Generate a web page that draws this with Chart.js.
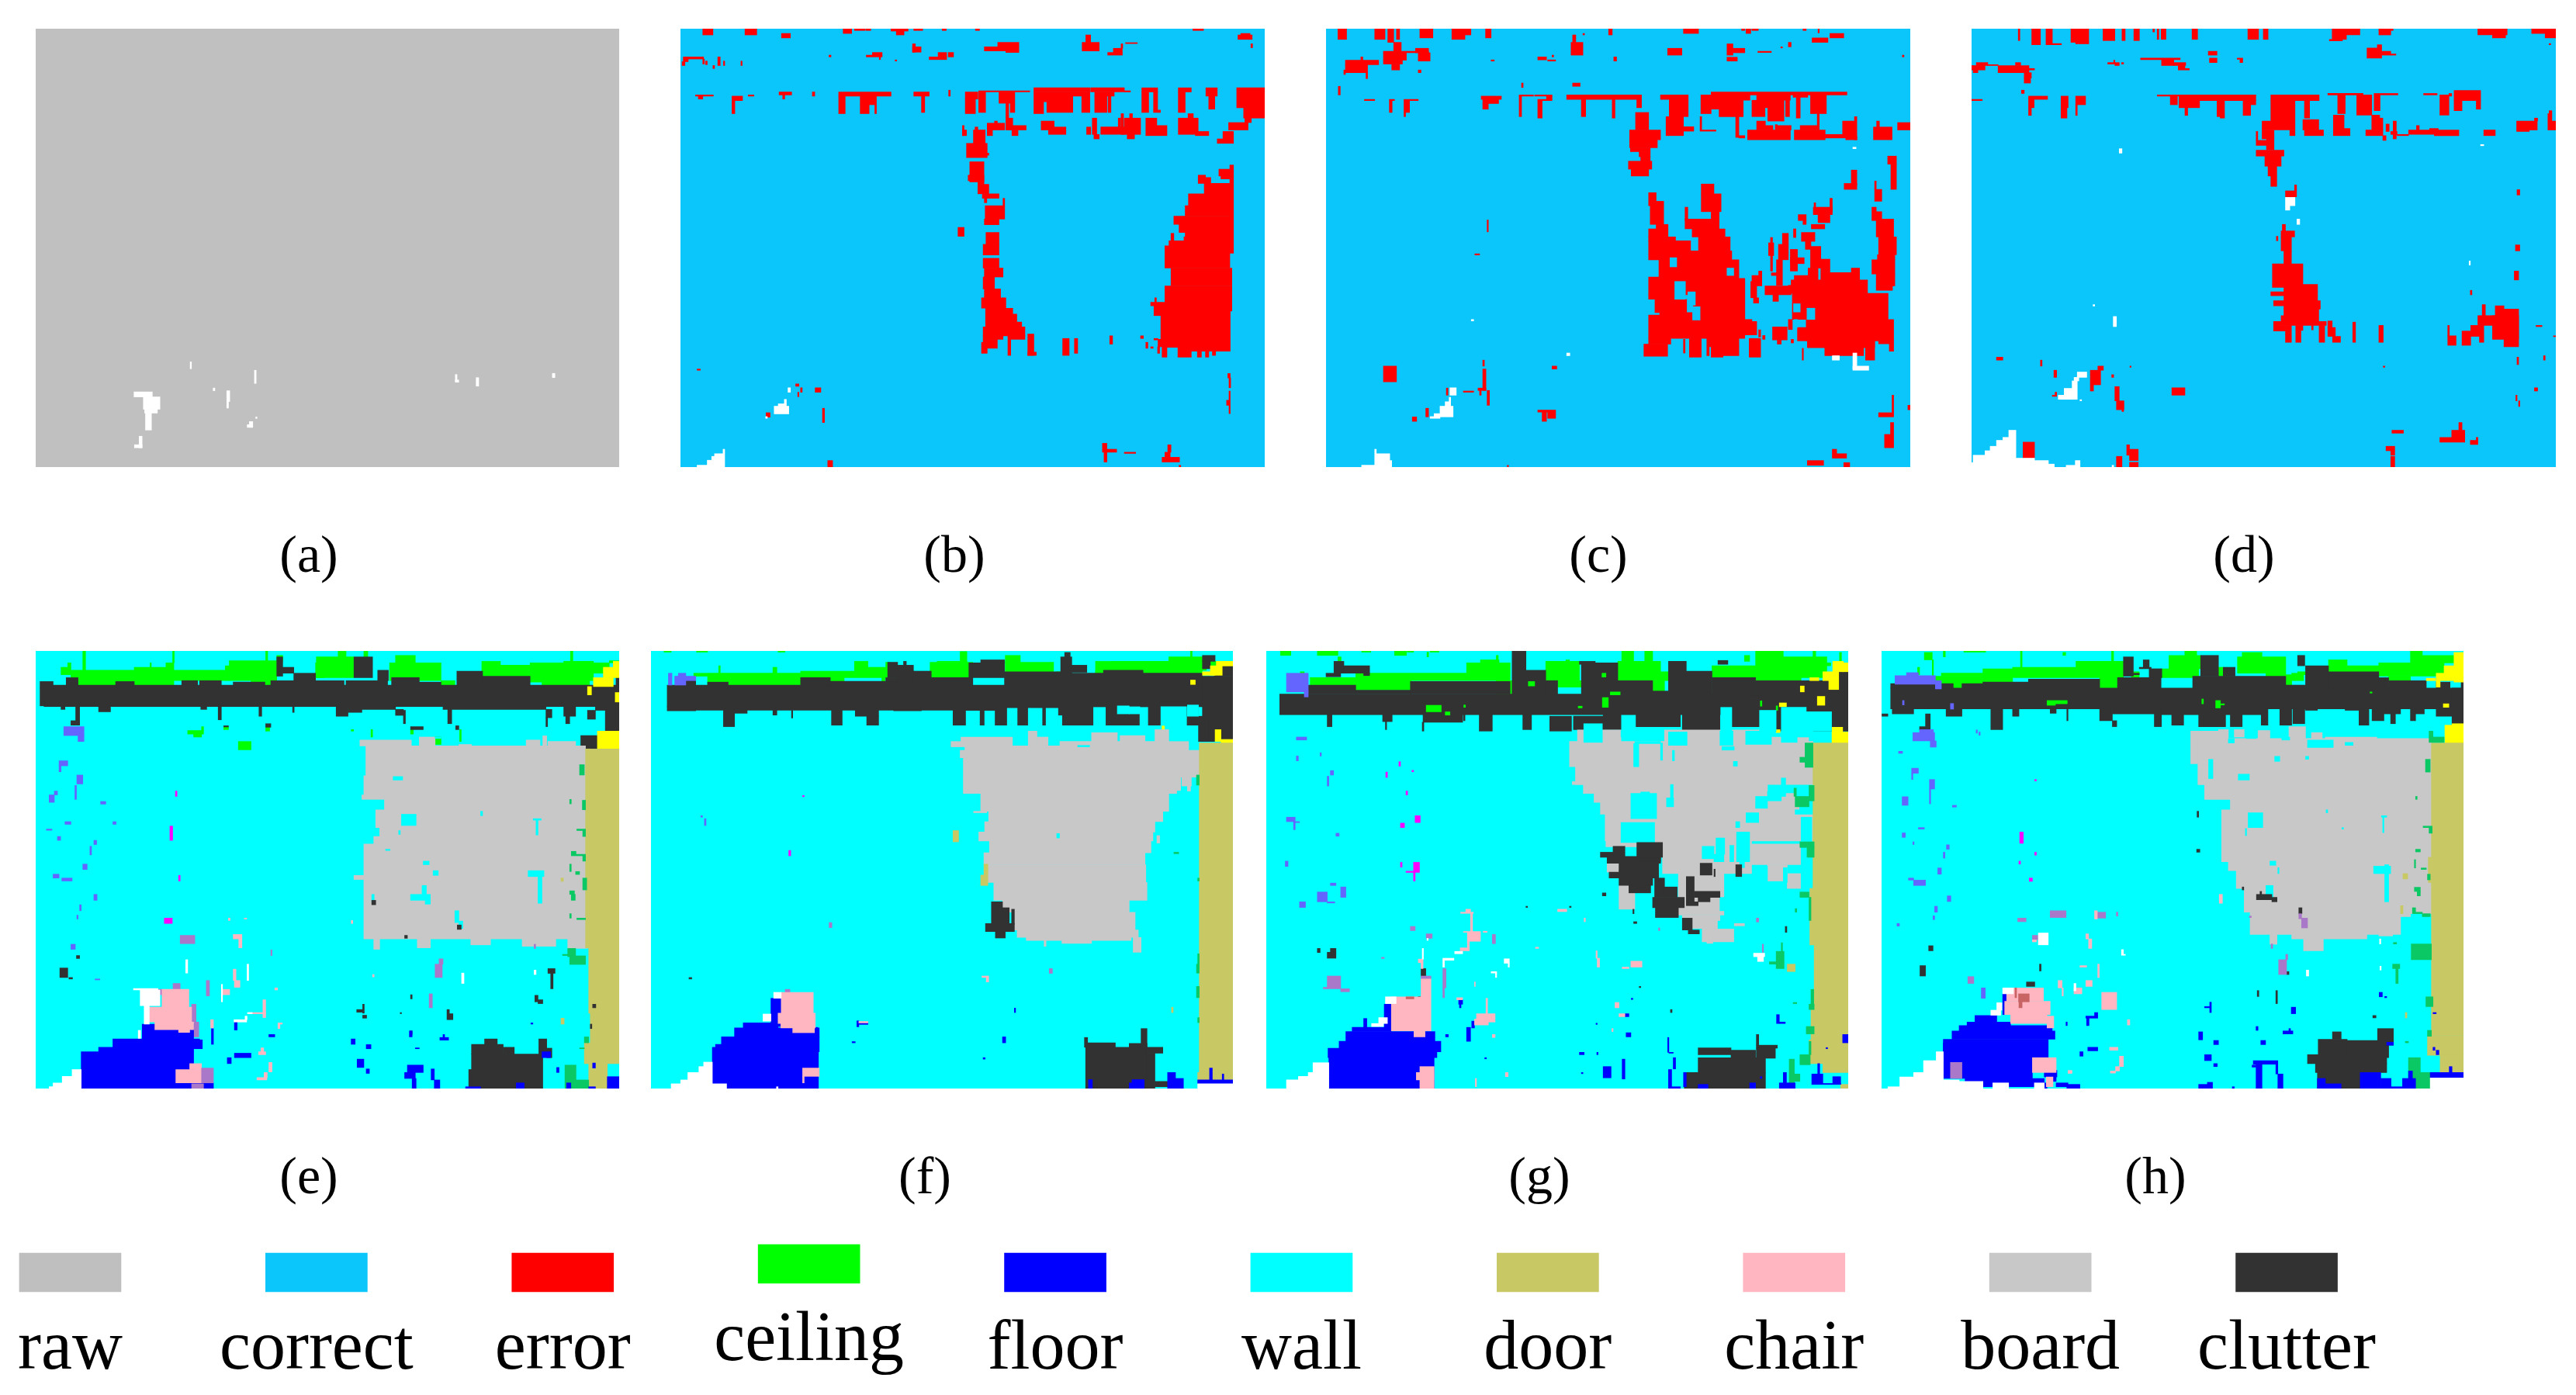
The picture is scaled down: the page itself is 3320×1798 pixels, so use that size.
<!DOCTYPE html>
<html>
<head>
<meta charset="utf-8">
<title>Segmentation results</title>
<script src="https://cdn.jsdelivr.net/npm/chart.js@4"></script>
<style>
  html, body { margin: 0; background: #fff; width: 3320px; height: 1798px; overflow: hidden; }
  canvas { position: absolute; }
  .caption { position: absolute; font-family: "Liberation Serif", serif; font-size: 68px; line-height: 80px; width: 200px; text-align: center; color: #000; }
</style>
</head>
<body>
<script>
// legend
const legendNames = ['raw', 'correct', 'error', 'ceiling', 'floor', 'wall', 'door', 'chair', 'board', 'clutter'];
const legendTops = [25, 25, 25, 14, 25, 25, 25, 25, 25, 25];
const legendColors = ['#c0bfbf', '#0bc6fa', '#ff0000', '#00ff00', '#0000ff', '#00ffff', '#c8c864', '#ffb6c1', '#c8c8c8', '#323232'];

const captions = ['(a)', '(b)', '(c)', '(d)', '(e)', '(f)', '(g)', '(h)'];

// class colours of the regions
const colors = {
  raw: '#c0c0c0', correct: '#0bc6fa', error: '#ff0000', clear: '#ffffff',
  ceiling: '#00ff00', floor: '#0000ff', wall: '#00ffff', door: '#c8c864', chair: '#ffb6c1', board: '#c8c8c8', clutter: '#323232',
  beam: '#ffff00', column: '#ff00ff', window: '#6464ff', table: '#aa78c8', sofa: '#c86464', bookcase: '#0ac864'
};

// regions, each [x0, y0, x1, y1] in image coordinates
const aClear = [[315,1015,358,1028],[337,1028,376,1060],[340,1060,370,1070],[342,1070,356,1114],[316,1152,334,1160],[327,1130,334,1160],[447,937,450,955],[598,959,602,993],[501,1005,505,1012],[533,1012,540,1040],[533,1040,537,1057],[586,1092,594,1107],[581,1100,594,1107],[601,1080,604,1084],[1070,970,1074,988],[1070,984,1078,990],[1119,978,1125,1000],[1298,967,1304,978]];

const bError = [[126,44,151,65],[230,44,259,65],[320,60,342,75],[472,44,493,60],[500,44,526,50],[528,44,540,50],[590,44,632,52],[603,52,622,65],[646,44,668,50],[716,44,726,50],[798,44,808,50],[1334,44,1360,50],[1445,65,1480,80],[1452,60,1475,65],[1477,95,1481,108],
[643,95,650,123],[643,105,664,123],[820,105,905,119],[853,90,905,105],[873,119,905,124],[1061,90,1103,119],[1070,65,1082,90],[1124,124,1160,133],[1138,110,1160,124],[1157,95,1161,110],[1168,91,1197,94],[529,133,568,139],[544,124,568,133],[561,139,564,148],[684,139,727,148],[706,124,727,139],[731,124,744,139],[437,133,442,139],[600,149,604,153],
[78,139,128,146],[78,146,90,155],[75,155,82,168],[126,146,130,163],[133,153,137,165],[151,168,155,178],[163,139,169,168],[177,153,180,168],[220,153,223,168],
[108,267,152,271],[115,271,126,281],[198,271,224,286],[198,286,205,330],[238,267,252,271],[314,257,345,267],[323,267,328,281],[396,257,402,271],[461,257,590,271],[461,271,477,330],[514,271,554,300],[514,300,536,330],[550,300,554,330],[646,257,684,271],[665,271,673,326],[732,251,736,271],
[773,257,804,281],[773,281,798,330],[806,253,932,257],[806,257,823,326],[856,257,895,295],[884,295,895,326],[942,243,1080,257],[942,257,966,330],[966,257,973,290],[974,257,1038,326],[1038,257,1080,271],[1060,271,1080,326],[1082,243,1165,257],[1092,257,1140,271],[1092,271,1122,326],[1125,271,1132,326],[1165,253,1180,257],[1208,243,1247,257],[1208,257,1225,326],[1237,257,1247,318],[1237,318,1254,326],[1298,243,1330,257],[1298,257,1315,326],[1366,243,1394,271],[1373,271,1388,315],[1442,243,1511,310],[1459,310,1511,345],
[873,295,880,385],[880,345,890,385],[880,370,923,385],[888,385,903,404],[827,362,870,385],[845,355,852,362],[827,385,840,404],[766,370,770,404],[766,385,776,404],[797,375,804,385],[793,385,822,430],[776,430,827,478],[827,463,831,470],[784,492,819,560],[780,537,819,556],[804,560,819,568],[804,568,831,600],[815,600,856,615],[820,615,826,630],[960,355,992,385],[978,375,1021,400],[1086,345,1097,400],[1072,375,1082,400],[1090,400,1103,415],[1107,375,1168,400],[1150,345,1156,375],[1157,330,1163,400],[1165,345,1205,400],[1172,400,1190,415],[1178,330,1185,360],[1218,345,1245,404],[1245,370,1270,404],[1298,345,1347,400],[1322,330,1335,345],[1340,390,1373,404],[1394,415,1434,430],[1408,390,1434,415],[1422,360,1470,385],[1462,345,1478,360],
[822,640,870,685],[866,615,870,640],[820,685,856,704],[755,713,770,743],[824,730,856,770],[817,770,856,806],[817,817,856,850],[820,850,866,880],[817,880,845,920],[820,920,860,950],[813,950,873,985],[823,985,890,1005],[823,1005,900,1032],[823,1032,912,1050],[817,1048,920,1078],[817,1078,866,1090],[817,1090,852,1120],[813,1100,827,1137],[878,1078,885,1144],[885,1078,920,1090],[927,1072,942,1144],[927,1133,948,1144],[1013,1087,1029,1144],[1042,1087,1050,1137],[1129,1078,1136,1106],[1205,1078,1212,1087],[1218,1100,1223,1120],[1230,1115,1236,1120],[1247,1115,1252,1137],
[1425,503,1434,800],[1398,517,1425,540],[1403,540,1425,550],[1347,537,1365,565],[1365,545,1378,567],[1362,565,1425,600],[1323,600,1425,640],[1315,640,1425,675],[1287,675,1425,703],[1300,703,1425,730],[1315,730,1425,745],[1280,733,1287,760],[1312,745,1425,760],[1275,758,1425,775],[1265,775,1425,850],[1280,850,1430,910],[1265,910,1430,965],[1230,965,1430,977],[1238,977,1430,995],[1238,995,1255,1010],[1255,995,1426,1090],[1248,1090,1426,1115],[1238,1087,1248,1092],[1240,950,1244,965],[1297,1115,1330,1150],[1258,1115,1270,1150],[1270,1115,1297,1117],[1330,1115,1426,1130],[1345,1130,1355,1150],[1365,1130,1373,1150],[1382,1130,1390,1144],
[112,1190,120,1194],[355,1240,363,1248],[403,1253,417,1268],[360,1268,363,1283],[367,1253,371,1268],[282,1337,292,1352],[421,1322,426,1370],[1420,1205,1426,1220],[1423,1220,1427,1253],[1423,1264,1426,1340],[1417,1295,1423,1312],[1111,1440,1122,1470],[1122,1460,1146,1470],[1115,1470,1122,1503],[1165,1470,1193,1474],[1258,1487,1301,1503],[1265,1470,1278,1487],[1272,1445,1280,1470],[1300,1514,1304,1520],[434,1498,446,1520]];
const bClear = [[336,1253,342,1268],[302,1315,338,1341],[312,1307,332,1315],[327,1292,332,1307],[281,1350,285,1356],[112,1514,176,1520],[137,1497,176,1514],[148,1484,176,1497],[155,1475,176,1484],[176,1460,180,1520]];

const cError = [[87,44,109,80],[180,44,206,80],[213,44,228,90],[235,44,243,80],[294,44,327,75],[375,44,423,65],[375,65,408,80],[460,44,474,75],[771,44,780,65],[960,44,998,60],[1107,44,1115,50],[1118,44,1130,60],[1133,44,1149,50],[1262,44,1270,50],[1300,44,1303,58],[680,65,688,90],[706,60,710,65],[676,90,706,133],[1285,75,1325,90],[1330,60,1365,75],[920,110,956,133],[1070,95,1085,133],[1085,110,1115,125],[1070,140,1096,153],[1148,120,1182,124],[1225,90,1232,105],[1206,105,1210,109],[1513,133,1517,139],
[228,90,247,120],[202,120,316,125],[202,125,260,150],[283,110,316,125],[290,125,320,153],[202,150,250,163],[223,163,243,183],[106,150,190,165],[145,139,150,150],[106,165,162,192],[102,183,106,198],[158,192,162,212],[290,183,297,192],[474,149,482,153],[592,139,614,149],[617,149,637,153],[628,133,632,139],[784,139,791,153],
[680,227,699,238],[551,227,555,242],[88,238,93,267],[154,282,180,286],[217,282,230,286],[217,286,224,326],[254,282,290,286],[254,286,268,326],[254,326,258,340],[449,271,500,282],[453,282,493,296],[453,296,467,315],[545,267,581,271],[545,271,551,340],[584,267,628,271],[614,271,628,286],[592,282,614,286],[592,286,603,345],[665,267,854,282],[702,282,713,340],[780,282,787,345],[842,282,854,310],
[902,267,972,282],[924,282,972,340],[916,340,960,404],[960,374,986,389],[1004,267,1030,330],[1030,257,1373,267],[1030,267,1128,285],[1030,285,1111,315],[1050,315,1111,340],[1092,340,1100,410],[1100,404,1115,412],[1145,267,1230,285],[1133,285,1166,340],[1173,285,1214,355],[1166,285,1173,310],[1218,285,1228,340],[1237,267,1274,275],[1245,275,1255,345],[1281,267,1321,330],[1298,330,1303,380],[1002,340,1006,385],[1002,385,1042,389],
[1122,385,1230,418],[1145,355,1167,385],[1167,370,1186,385],[1197,370,1232,385],[1192,367,1197,385],[1255,370,1303,385],[1240,385,1318,418],[1317,400,1370,412],[1362,355,1392,408],[1392,340,1398,418],[1370,405,1398,418],[1448,355,1455,375],[1440,375,1487,418],[1501,360,1533,385],
[839,326,872,385],[824,385,902,418],[824,418,894,445],[826,445,876,458],[848,458,876,475],[852,475,876,490],[821,490,880,517],[828,517,872,540],
[1476,473,1498,500],[1484,500,1498,585],[1384,520,1398,570],[1366,565,1398,585],[1443,557,1447,585],[1443,585,1461,625],[1436,645,1447,690],[1447,660,1461,690],[1447,685,1491,745],[1453,745,1498,805],[1436,822,1494,870],[1447,870,1494,910],[1447,910,1488,925],[1450,805,1494,822],
[872,596,891,640],[876,625,910,703],[891,703,921,718],[872,718,921,745],[872,745,940,758],[872,758,978,822],[898,822,1090,880],[872,880,1090,940],[872,940,938,955],[888,955,968,1000],[900,1000,1005,1008],[872,1008,1005,1087],[972,792,1082,822],[1005,567,1037,600],[1005,600,1055,660],[1030,655,1050,700],[964,645,971,690],[964,685,1050,718],[982,718,1065,745],[998,745,1078,792],[1090,822,1100,890],[985,885,1115,1030],[1000,895,1115,1087],[1005,1030,1145,1075],[1115,1023,1133,1050],[1020,1075,1100,1115],[1030,1115,1060,1150],[1060,1115,1100,1145],[975,1087,1005,1150],[1019,1087,1025,1145],[1126,1087,1155,1150],[872,1087,928,1106],[860,1106,920,1147],[960,1090,964,1136],
[1133,875,1158,910],[1130,895,1145,950],[1137,950,1150,968],[1166,910,1232,940],[1186,940,1200,962],[1150,860,1158,875],[1175,765,1188,808],[1180,747,1185,860],[1210,733,1225,770],[1200,770,1225,822],[1195,822,1210,908],[1182,866,1196,875],[1230,787,1248,860],[1230,815,1265,835],[1225,908,1260,932],[1240,875,1300,908],[1275,850,1300,875],[1258,730,1292,760],[1283,703,1317,718],[1268,760,1282,787],[1281,777,1307,850],[1307,820,1330,890],[1238,718,1244,747],[1250,670,1270,690],[1262,690,1270,703],[1288,645,1336,670],[1300,670,1330,697],[1330,615,1336,660],[1290,630,1294,645],[1315,865,1405,890],[1384,850,1405,865],[1232,890,1425,935],
[1235,935,1477,1023],[1270,1023,1491,1095],[1248,1050,1270,1095],[1225,1023,1235,1057],[1273,1095,1443,1118],[1317,1118,1415,1145],[1420,1095,1443,1160],[1453,1095,1491,1105],[1480,1105,1491,1130],[1260,1120,1263,1160],[1185,1048,1222,1092],[1197,1092,1207,1106],[1150,1058,1155,1082],[1160,1077,1166,1090],[1232,1090,1238,1102],
[464,688,467,728],[433,802,445,806],[202,1180,235,1233],[628,1180,640,1190],[453,1160,457,1180],[453,1190,461,1262],[441,1254,461,1262],[445,1262,449,1278],[464,1262,470,1312],[404,1264,430,1268],[361,1254,365,1278],[309,1322,316,1351],[275,1351,286,1366],[592,1328,637,1335],[617,1335,637,1356],[603,1335,614,1366],[1453,1337,1491,1351],[1487,1278,1491,1337],[1483,1370,1491,1455],[1468,1410,1483,1455],[1527,1312,1533,1327],[1336,1460,1347,1490],[1347,1475,1372,1490],[1273,1498,1314,1514],[1365,1505,1380,1520],[515,1514,518,1520]];
const cHoles = [[926,815,943,846],[1070,850,1087,875],[938,895,965,955],[971,930,990,975],[983,980,1002,1025],[1238,970,1255,998],[1272,985,1292,1023],[1240,1023,1248,1050]];
const cClear = [[370,1253,386,1278],[345,1315,378,1351],[368,1285,372,1320],[358,1300,368,1320],[320,1350,345,1356],[330,1340,345,1350],[424,1023,430,1028],[665,1136,673,1145],[1336,1145,1354,1160],[1388,1136,1398,1190],[1388,1180,1428,1194],[1388,443,1396,448],[147,1514,223,1520],[180,1460,184,1514],[184,1475,218,1514],[218,1498,223,1514]];

const dError = [[159,44,163,84],[193,44,215,98],[229,44,245,98],[245,94,268,98],[292,44,337,90],[304,90,337,95],[373,44,403,84],[421,44,429,84],[451,44,465,84],[499,44,503,55],[510,44,514,80],[520,44,532,80],[598,44,612,80],[739,44,766,80],[778,44,790,80],[952,44,1022,65],[952,65,988,80],[945,80,978,85],[1070,44,1106,50],[1070,50,1100,65],[1320,44,1394,65],[1357,65,1390,75],[1456,44,1517,60],[1490,60,1517,75],[1500,94,1504,98],
[1040,109,1077,143],[1066,98,1077,109],[1077,120,1100,133],[1100,129,1113,133],[639,120,661,133],[642,143,661,158],[712,143,726,147],[719,147,726,158],[468,143,568,148],[521,148,552,168],[552,158,582,168],[563,168,580,180],[563,178,591,183],[385,158,414,163],[400,150,403,158],[403,163,414,168],[420,158,425,163],
[41,168,75,183],[53,158,82,168],[45,183,57,192],[82,165,108,168],[108,168,186,192],[152,158,165,168],[174,192,192,210],[174,210,190,227],[186,178,200,183],[167,251,174,262],[41,282,68,286],
[185,271,233,282],[185,282,199,310],[185,310,192,336],[267,271,285,310],[267,310,282,345],[304,271,329,300],[304,300,308,336],
[510,267,759,271],[543,271,561,300],[565,271,759,286],[565,286,617,310],[580,310,587,336],[661,286,680,340],[669,340,680,345],[727,286,759,300],[727,300,746,336],
[797,267,919,286],[797,286,858,355],[775,355,858,385],[775,385,805,415],[845,385,858,404],[882,286,895,345],[878,350,918,385],[882,385,930,404],[955,335,982,404],[982,380,997,404],[941,262,1030,267],[966,267,985,330],[1014,267,1052,335],[1058,262,1118,267],[1058,267,1073,320],[1052,335,1072,385],[1037,385,1080,404],[1072,345,1080,385],[1080,404,1088,420],[1183,262,1217,267],[1224,267,1247,335],[1247,262,1254,271],[1260,252,1327,286],[1260,286,1280,320],[1316,286,1327,315],
[1088,365,1096,390],[1100,390,1116,400],[1106,355,1114,415],[1116,400,1145,404],[1145,385,1210,400],[1165,370,1172,385],[1198,380,1220,385],[1210,385,1272,404],[1335,385,1364,404],[1418,355,1470,385],[1463,345,1471,355],[1418,385,1450,390],[1497,330,1507,385],[1507,355,1517,385],[1500,320,1507,330],
[760,390,764,420],[760,420,790,437],[786,404,805,452],[760,453,830,473],[782,473,823,507],[790,507,812,540],[797,540,812,575],[834,590,862,610],[857,570,862,590],
[826,703,834,725],[823,725,857,745],[811,743,815,758],[823,745,849,792],[830,792,849,836],[801,836,878,905],[801,905,915,915],[830,915,915,930],[797,930,915,943],[830,943,915,960],[804,960,922,977],[830,977,922,988],[830,988,918,1010],[823,1010,918,1030],[804,1030,937,1043],[804,1043,834,1062],[834,1043,849,1100],[860,1043,878,1060],[860,1060,873,1100],[900,1043,904,1058],[919,1043,933,1100],[941,1028,952,1050],[941,1050,960,1080],[953,1080,973,1100],[1004,1032,1011,1100],[1070,1043,1081,1100],
[1244,1043,1248,1078],[1244,1078,1265,1110],[1280,1062,1302,1110],[1302,1043,1335,1080],[1320,1010,1365,1043],[1331,973,1339,1010],[1364,977,1386,1010],[1386,988,1423,1115],[1357,1010,1423,1090],[1324,1080,1335,1100],
[1419,586,1426,604],[1415,772,1426,792],[1412,860,1423,890],[1301,925,1305,940],[1467,1043,1482,1047],[1511,1078,1517,1081],[1419,1150,1423,1175],[1486,1145,1490,1160],[1463,1253,1471,1264],[1416,1278,1419,1297],[1423,1297,1426,1316],
[104,1150,120,1160],[215,1160,219,1180],[249,1194,256,1218],[360,1180,374,1194],[341,1194,367,1243],[341,1243,349,1264],[395,1209,400,1218],[441,1180,444,1184],[403,1249,414,1297],[407,1297,426,1327],[421,1327,425,1333],[547,1253,580,1278],[245,1278,256,1282],[252,1268,256,1278],[1081,1180,1085,1184],[1103,1396,1132,1406],[1272,1370,1280,1396],[1224,1420,1287,1436],[1254,1396,1287,1420],[1301,1430,1320,1444],[1316,1420,1320,1430],[171,1436,200,1490],[433,1445,440,1480],[440,1460,462,1498],[407,1484,421,1520],[440,1504,462,1520],[1088,1450,1110,1465],[1100,1465,1110,1480],[1100,1484,1110,1520]];
const dClear = [[414,448,421,463],[1327,434,1335,438],[834,612,858,640],[834,640,845,655],[863,685,870,703],[1298,826,1301,840],[348,973,352,978],[399,1013,407,1047],[308,1200,332,1218],[300,1218,312,1230],[295,1230,308,1292],[275,1255,295,1292],[260,1278,275,1292],[315,1293,319,1297],
[45,1480,75,1520],[75,1465,88,1520],[88,1450,104,1520],[104,1430,120,1520],[120,1420,135,1520],[135,1396,153,1520],[153,1490,200,1520],[200,1498,235,1520],[235,1510,250,1520],[280,1514,308,1520],[303,1498,315,1520],[396,1514,400,1520],[41,1505,45,1520]];

const eCeiling = [[95,105,120,130],[112,90,120,105],[120,115,300,165],[150,50,157,115],[280,105,360,165],[320,90,323,105],[360,90,380,165],[377,50,381,90],[380,115,510,150],[510,100,520,150],[520,83,640,150],[612,50,617,83],[575,150,640,170],[610,170,625,188],[640,65,655,85],[205,165,225,225],[197,225,208,238],[738,90,760,140],[740,70,835,140],[795,50,815,70],[860,50,870,70],[925,90,1055,150],[940,65,990,90],[1055,150,1090,165],[1063,165,1080,188],[1158,85,1205,140],[1205,98,1280,140],[1280,90,1430,155],[1310,105,1430,170],[1365,85,1440,150],[1382,50,1388,85],[1440,90,1480,125],[1480,83,1505,90],[415,318,455,330],[430,330,450,340],[450,305,455,318],[543,355,575,383],[1038,340,1055,365],[878,315,882,340],[1102,315,1106,355],[828,315,834,320],[506,306,518,315],[612,307,622,320],[978,315,985,330]];
const eBand = [[52,165,1500,237],[42,153,75,175],[42,175,52,235],[108,140,138,168],[233,153,280,170],[400,150,440,165],[445,150,500,165],[530,155,610,170],[625,150,690,165],[690,130,738,165],[738,150,810,165],[815,150,920,165],[895,115,922,150],[835,70,882,140],[640,70,655,135],[655,105,683,125],[683,125,738,150],[930,140,1000,165],[1000,155,1055,165],[1095,118,1160,165],[1160,135,1280,165],[1497,133,1505,340],[1470,170,1505,335],
[132,237,142,300],[120,285,142,300],[95,237,105,247],[190,237,220,255],[448,237,463,247],[492,237,500,282],[595,237,602,270],[680,237,684,257],[790,237,820,270],[820,237,855,257],[855,237,940,247],[940,247,960,267],[960,250,965,295],[1072,247,1082,295],[1060,237,1320,247],[1320,247,1335,275],[1320,275,1324,305],[1365,237,1395,270],[1370,270,1380,295],[1425,250,1445,280],[1445,237,1470,250],[978,305,1010,315],[1092,302,1100,315],[612,295,625,307],[506,302,518,306],[1408,335,1450,380]];
const eBeam = [[1440,140,1490,170],[1465,105,1505,140],[1490,85,1505,135],[1495,190,1505,222],[1425,170,1435,198],[1450,320,1505,380],[1487,380,1493,400],[1468,405,1500,418],[1448,483,1463,498],[1425,380,1432,388],[1298,423,1302,468],[1325,415,1342,433]];
const eBoard = [[865,370,1420,470],[850,350,980,370],[1000,340,1040,370],[1100,365,1132,375],[1270,350,1305,370],[1312,336,1322,370],[1325,355,1395,370],[860,470,1420,535],[855,535,912,550],[912,535,1420,585],[890,585,1420,645],[900,645,1420,675],[885,675,1420,700],[860,700,1420,1020],[885,1020,900,1055],[995,1020,1028,1050],[1130,1020,1180,1040],[1260,1020,1345,1045],[1375,1020,1425,1052],[835,806,862,820]];
const eHoles = [[955,600,992,638],[978,870,1028,890],[1007,840,1018,885],[1015,885,1028,903],[934,473,958,485],[880,870,886,895],[1275,790,1315,810],[1300,805,1310,900],[1090,925,1100,965],[1100,960,1110,985],[1288,615,1308,620],[1295,620,1300,670],[1155,590,1160,605],[1010,758,1025,770],[1035,790,1048,806],[948,655,952,668],[915,718,926,722],[1040,340,1055,345]];
const eDoor = [[1420,380,1505,1050],[1428,1050,1505,1270],[1432,1270,1505,1370],[1417,1370,1505,1440],[1428,1440,1475,1524],[1358,815,1364,826],[1358,1287,1366,1307]];
const eBookcase = [[1405,433,1417,468],[1412,553,1420,585],[1380,550,1384,565],[1398,650,1420,655],[1413,655,1420,675],[1384,725,1396,735],[1384,735,1420,740],[1413,740,1420,758],[1380,768,1384,793],[1395,793,1405,803],[1413,815,1423,855],[1380,858,1392,870],[1384,870,1394,890],[1380,935,1384,950],[1398,950,1420,955],[1375,1052,1395,1080],[1380,1077,1420,1106],[1362,1072,1375,1076],[1368,1445,1396,1524],[1396,1495,1428,1524],[1417,1350,1428,1370],[1405,1387,1417,1390]];
const eWindow = [[102,305,153,335],[138,335,153,355],[90,420,112,437],[90,437,95,457],[135,468,150,498],[130,503,134,550],[65,535,78,560],[78,522,86,535],[195,557,208,566],[105,625,120,634],[226,625,234,634],[58,650,72,654],[86,675,94,688],[178,688,185,702],[168,708,172,737],[150,768,161,786],[75,802,90,815],[97,815,123,825],[178,870,186,890],[142,905,146,925],[135,940,138,953],[120,1038,131,1055],[181,1155,193,1158]];
const eColumn = [[370,640,377,688],[384,522,388,540],[392,806,396,825],[356,950,376,968]];
const eSpots = [[880,890,890,905],[963,1008,970,1018],[1096,973,1106,988],[1165,1357,1197,1375],[1132,1375,1212,1408],[1212,1385,1240,1408],[1132,1408,1312,1524],[1125,1460,1132,1518],[1302,1357,1322,1388],[1322,1388,1335,1420],[1302,1388,1322,1408],[92,1118,112,1150],[115,1150,124,1155],[134,1076,142,1086],[1325,1120,1343,1136],[1332,1136,1338,1188],[1292,1210,1300,1232],[1300,1225,1312,1238],[1070,1258,1076,1292],[1076,1272,1085,1292],[857,1240,861,1270],[842,1258,857,1267],[857,1277,867,1287],[978,1208,982,1222],[977,1330,982,1342],[952,1268,955,1272],[1438,1240,1446,1252],[1432,1307,1436,1322]];
const eTable = [[396,1008,433,1036],[1040,1105,1058,1150],[1050,1087,1060,1105],[625,1057,628,1076],[1025,1205,1033,1252],[322,1190,352,1208],[378,1170,396,1190],[425,1240,436,1300],[430,1300,443,1350],[462,1160,470,1212],[1290,1038,1294,1052]];
const eFloor = [[300,1307,430,1360],[226,1357,445,1385],[190,1385,430,1400],[146,1400,430,1524],[430,1360,452,1390],[407,1505,480,1524],[475,1322,480,1375],[533,1300,540,1327],[533,1405,575,1420],[515,1420,525,1440],[620,1342,635,1350],[828,1357,838,1375],[866,1376,878,1390],[843,1425,860,1453],[866,1458,874,1473],[975,1330,982,1350],[1052,1352,1074,1361],[1060,1342,1064,1352],[990,1387,1000,1390],[1282,1303,1287,1307],[1310,1400,1332,1420],[970,1445,1010,1470],[963,1470,990,1490],[982,1490,992,1524],[1030,1458,1038,1495],[1038,1495,1052,1524],[1117,1518,1155,1524],[1245,1505,1265,1524],[1347,1453,1353,1470],[1428,1518,1445,1524],[1438,1438,1445,1455],[1475,1484,1505,1524],[1372,1505,1383,1524]];
const eChair = [[350,1190,418,1250],[318,1250,425,1300],[332,1300,430,1326],[392,1326,420,1335],[385,1460,450,1505],[420,1440,450,1460],[530,1122,537,1160],[533,1160,547,1183],[503,1190,521,1208],[530,1005,552,1020],[544,1020,552,1050],[568,1268,612,1272],[605,1225,612,1285],[473,1292,480,1320],[643,1303,654,1307],[643,1307,648,1322],[594,1400,612,1410],[600,1387,607,1400],[620,1436,628,1468],[590,1487,615,1495],[608,1470,616,1487],[635,1185,642,1192],[518,950,522,958],[558,950,564,953],[828,958,832,968],[882,1140,886,1148]];
const eTable2 = [[450,1455,480,1505],[425,1508,455,1524]];
const eClear = [[278,1187,340,1192],[295,1192,345,1245],[305,1245,318,1307],[290,1328,296,1355],[410,1090,415,1135],[500,1173,503,1232],[565,1105,569,1160],[532,1292,564,1300],[560,1280,565,1292],[1107,1135,1113,1170],[1290,1125,1295,1140],[566,1268,578,1272],[65,1518,146,1524],[75,1505,146,1518],[98,1483,146,1505],[123,1460,146,1483]];

const fCeiling = [[145,125,180,135],[180,125,415,165],[208,100,212,125],[345,105,355,125],[415,118,630,140],[487,140,525,152],[551,85,585,118],[585,105,630,118],[630,88,640,140],[620,140,628,152],[742,88,850,138],[760,85,835,88],[818,52,835,88],[932,65,970,90],[932,88,1054,120],[1015,120,1035,132],[1060,120,1072,162],[1160,85,1200,125],[1200,85,1440,115],[1160,115,1430,125],[1280,115,1430,138],[1345,70,1430,115],[1400,50,1404,70],[1430,85,1476,100],[70,50,88,54],[152,50,180,54],[358,50,375,54],[232,165,236,198]];
const fBand = [[78,165,1430,238],[78,238,150,252],[150,238,1420,250],[108,140,150,165],[180,155,232,165],[415,140,490,165],[490,152,630,165],[630,140,660,165],[635,88,660,140],[660,98,700,118],[675,85,682,98],[700,118,745,140],[660,118,700,165],[700,140,850,165],[840,90,930,140],[870,80,930,90],[930,120,1072,165],[1072,70,1100,125],[1082,55,1096,70],[1100,98,1138,122],[1072,125,1430,165],[1180,115,1280,125],[1430,65,1462,85],[1430,85,1450,110],[1430,135,1507,355],[1480,100,1507,135],[1460,115,1480,140],
[220,245,248,305],[248,245,280,260],[345,245,355,266],[392,250,395,276],[493,245,520,300],[553,245,612,270],[582,270,612,300],[650,245,720,252],[800,243,1420,300],[1420,270,1445,355]];
const fBeam = [[1465,85,1507,100],[1450,100,1480,132],[1480,85,1507,100],[1430,120,1462,132],[1400,148,1412,163],[1328,302,1334,315],[1462,315,1477,355],[1477,348,1507,360]];
const fBoard = [[795,355,830,373],[820,340,950,370],[830,370,1395,385],[818,385,1422,410],[826,410,1422,475],[826,475,1365,530],[1365,475,1375,520],[1378,475,1402,505],[1392,505,1400,522],[870,530,1345,590],[852,590,885,595],[890,590,1330,625],[880,625,1310,660],[865,660,1305,690],[892,690,1300,730],[878,730,1285,770],[888,770,1287,830],[903,830,1290,890],[925,890,1245,930],[950,930,1260,990],[962,990,1268,1015],[985,1015,1250,1025],[1075,1025,1150,1035],[1255,1015,1275,1065],[1030,1015,1035,1045],[990,320,1012,370],[1012,340,1040,370],[1070,355,1150,370],[1150,325,1215,355],[1222,335,1285,355],[1150,355,1345,375],[1310,315,1345,355],[1345,355,1395,375],[1315,672,1322,697]];
const fHoles = [[833,252,867,301],[880,252,905,301],[937,243,962,301],[990,243,995,301],[995,243,1025,301],[1035,243,1065,301],[1065,268,1075,301],[1155,240,1185,301],[1215,235,1245,262],[1245,238,1272,262],[1272,240,1292,301],[1325,238,1390,301],[1392,232,1420,270],[1115,368,1145,373],[1062,665,1069,680]];
const fDoor = [[1422,360,1507,1495],[1418,1470,1507,1495],[800,655,814,693],[878,768,888,805],[870,805,888,840],[1352,1250,1356,1268]];
const fBookcase = [[1415,468,1422,502],[1418,1070,1422,1135],[1415,1105,1420,1135],[1415,1180,1422,1218],[1358,728,1370,733],[1418,815,1422,825],[1418,1285,1422,1302]];
const fWindow = [[81,125,90,165],[97,135,105,165],[106,125,125,165],[125,135,150,150],[172,615,176,638],[163,605,167,610]];
const fColumn = [[420,537,424,541],[385,722,390,740]];
const fSpots = [[897,895,925,970],[925,915,942,970],[882,968,955,995],[907,995,932,1017],[948,920,955,970],[1132,1352,1140,1385],[1140,1370,1210,1385],[1135,1385,1290,1524],[1245,1372,1290,1385],[1275,1322,1290,1385],[1290,1385,1330,1405],[1290,1405,1310,1524],[1310,1500,1345,1518],[133,1150,140,1155]];
const fTable = [[487,965,494,982],[1043,1120,1051,1136],[376,1190,388,1200]];
const fFloor = [[340,1220,366,1315],[270,1303,358,1340],[248,1320,462,1350],[215,1350,462,1375],[200,1375,462,1400],[192,1385,460,1524],[452,1318,458,1340],[557,1296,562,1316],[562,1303,585,1308],[545,1366,553,1370],[925,1350,933,1370],[955,1253,958,1268],[876,1420,881,1425],[1142,1494,1152,1524],[1245,1505,1252,1524],[1252,1494,1283,1524],[1342,1470,1362,1524],[1362,1490,1382,1524],[1418,1495,1507,1508],[1448,1455,1455,1495],[1480,1475,1484,1495]];
const fChair = [[366,1200,447,1270],[358,1270,452,1305],[365,1305,452,1320],[395,1320,450,1336],[420,1455,462,1483],[420,1483,424,1505],[873,1145,890,1150],[884,1150,890,1165],[562,1298,585,1303]];
const fClear = [[347,1200,366,1220],[320,1273,340,1297],[88,1508,112,1524],[112,1495,130,1524],[130,1470,158,1524],[158,1450,170,1524],[170,1435,192,1524],[192,1508,228,1524],[354,1518,358,1524],[1418,1508,1507,1524]];

const gCeiling = [[60,50,86,65],[153,50,205,65],[265,50,288,54],[348,50,378,65],[380,50,396,54],[438,50,460,54],[430,54,434,70],[205,70,213,85],[135,140,250,165],[250,125,390,182],[390,125,530,150],[530,90,640,150],[565,80,612,90],[605,65,610,80],[605,150,645,205],[632,205,664,235],[730,85,815,150],[760,150,845,172],[830,150,845,198],[781,80,790,85],[922,50,952,130],[912,85,1020,150],[980,50,1000,85],[1000,120,1040,150],[1000,150,1030,185],[1232,65,1245,85],[1150,100,1260,140],[1260,50,1330,140],[1260,140,1375,150],[1330,70,1440,140],[1405,50,1412,70],[1472,55,1477,85],[1440,90,1450,100],[110,120,120,135]];
const gBand = [[58,195,1494,265],[130,165,250,195],[250,182,390,195],[388,153,640,195],[645,50,680,200],[680,115,730,200],[730,150,760,200],[820,90,912,200],[815,85,855,95],[912,150,1000,200],[1000,185,1040,200],[1040,85,1085,200],[1085,118,1150,200],[1150,140,1260,200],[1260,150,1390,200],[1390,150,1445,200],[1445,180,1470,200],[1470,120,1494,320],[195,85,220,125],[220,100,285,125],[175,125,212,137],[270,125,285,133],[1165,82,1190,95],
[178,265,190,305],[318,265,342,288],[325,288,328,315],[418,290,422,320],[420,265,520,290],[522,265,526,285],[562,265,595,320],[672,265,694,315],[740,270,795,320],[800,270,875,315],[875,265,920,315],[958,265,1070,305],[1075,265,1170,320],[1190,265,1270,305],[1310,265,1325,320],[1390,265,1470,320]];
const gCeilingOver = [[686,153,702,168],[872,125,882,138],[893,188,918,198],[873,207,888,240],[812,236,822,242],[428,233,466,255],[476,255,488,266],[523,232,527,240],[1272,218,1276,236],[1312,235,1316,250]];
const gBeam = [[1430,120,1470,150],[1445,150,1470,180],[1455,85,1482,120],[1480,90,1494,120],[1373,168,1383,188],[1397,140,1420,150],[1416,203,1435,233],[1320,225,1338,238],[1312,315,1322,325],[1453,307,1480,360],[1480,323,1494,360],[1306,403,1322,440],[1318,440,1338,478]];
const gBoard = [[810,316,920,360],[790,355,1405,440],[805,440,1405,500],[797,490,825,500],[825,500,1290,530],[852,530,1360,560],[868,560,1370,600],[880,600,1405,690],[882,690,1125,710],[1025,690,1250,800],[1250,700,1375,770],[1290,770,1340,825],[1340,800,1375,850],[885,760,915,795],[915,840,955,920],[1065,800,1180,940],[1075,940,1170,985],[1125,985,1205,1030],[1137,1018,1152,1035],[1205,968,1232,976],[1030,316,1290,355],[1290,340,1394,355]];
const gHoles = [[1172,240,1200,340],[1270,250,1312,320],[1325,240,1388,320],[1388,255,1452,320],[826,295,873,358],[920,318,962,340],[955,355,1020,362],[1040,323,1087,368],[1170,320,1203,368],[1235,320,1300,365],[1325,320,1365,358],[1365,320,1405,340],[1175,372,1206,384],[1204,422,1214,438],[1020,360,1025,418],[952,362,965,440],[1050,385,1055,420],[1325,478,1336,540],[1290,523,1325,555],[1360,585,1405,600],[945,530,1010,615],[970,525,992,530],[920,628,1005,695],[1035,545,1053,575],[1045,500,1052,550],[1260,575,1290,580],[1236,595,1268,628],[1210,625,1220,645],[1260,540,1290,575],[1125,708,1155,750],[1160,680,1182,735],[1155,735,1180,760],[1195,705,1205,760],[1212,660,1245,760],[1220,760,1232,780],[1260,775,1290,825],[1330,780,1340,830],[1375,610,1402,695],[1375,712,1405,850],[1170,880,1200,925],[1165,960,1205,985],[1200,910,1220,950]];
const gDoor = [[1405,360,1494,850],[1397,850,1494,1040],[1408,1040,1494,1240],[1400,1240,1494,1360],[1395,1360,1494,1440],[1430,1440,1494,1470],[1475,1510,1494,1524],[1340,1105,1360,1130]];
const gBookcase = [[1385,360,1405,442],[1372,408,1385,425],[1360,540,1395,575],[1395,503,1408,555],[1357,512,1363,540],[1372,693,1408,712],[1390,712,1408,745],[1372,862,1395,880],[1395,880,1400,958],[1360,918,1364,930],[1312,1062,1332,1120],[1295,1097,1312,1105],[1325,1033,1328,1062],[1395,1240,1408,1258],[1388,1315,1408,1340],[1372,1410,1398,1444],[1395,1365,1400,1410],[1345,1425,1358,1524],[1358,1475,1372,1500],[1400,1190,1407,1240],[1355,1234,1364,1238]];
const gWindow = [[75,125,130,188],[120,188,130,205],[100,340,126,350],[100,404,105,420],[160,393,163,404],[186,453,194,468],[178,472,182,505],[75,610,97,625],[93,625,108,628],[93,628,97,652],[200,664,208,674],[72,758,79,776],[186,832,200,840],[153,862,178,895],[212,845,225,880],[108,895,123,914],[178,895,197,899]];
const gColumn = [[359,423,363,438],[326,458,330,476],[392,452,396,457],[377,522,381,535],[400,605,413,628],[363,630,373,645],[363,762,367,778],[396,762,411,796],[377,792,396,796],[396,796,400,825]];
const gSpots = [[868,728,900,745],[900,708,930,760],[885,745,1020,765],[930,742,1020,760],[960,695,1025,745],[915,760,1015,790],[890,795,1015,815],[915,790,1015,815],[915,815,1000,840],[940,840,995,865],[1005,815,1030,880],[1000,880,1080,915],[1007,915,1065,948],[1030,845,1062,880],[1085,810,1105,895],[1105,860,1170,880],[1085,895,1115,908],[1115,880,1145,895],[1120,765,1150,805],[1155,785,1158,810],[1210,770,1225,810],[1075,950,1100,990],[1090,990,1118,1003],[873,865,882,875],[178,1065,200,1085],[186,1052,200,1065],[153,1052,160,1066],[415,1120,427,1145],[1335,978,1339,998],[950,920,953,935],[952,962,960,968],[680,910,684,914],[790,910,794,914],[408,1214,414,1232],[966,1180,970,1184],[1045,1258,1049,1268],[1115,1387,1198,1410],[1198,1395,1260,1420],[1115,1420,1285,1470],[1080,1470,1285,1524],[1262,1342,1268,1378],[1262,1378,1315,1388],[1262,1388,1310,1422]];
const gTable = [[178,1145,212,1188],[168,1183,180,1188],[212,1188,234,1198],[388,978,400,992],[428,1003,443,1018],[595,1005,603,1036],[415,1145,440,1155],[470,1120,478,1185],[470,1185,474,1218],[1262,950,1268,963],[1015,983,1018,992],[1277,1038,1280,1065],[315,1082,322,1086]];
const gFloor = [[322,1240,340,1330],[270,1288,278,1318],[241,1318,340,1332],[225,1332,450,1365],[208,1365,465,1400],[180,1388,455,1420],[182,1420,448,1524],[530,1318,540,1365],[543,1297,550,1320],[477,1342,484,1350],[510,1225,520,1240],[512,1240,516,1252],[930,1272,940,1282],[933,1336,945,1350],[815,1402,827,1410],[859,1402,862,1410],[875,1450,895,1488],[923,1425,930,1492],[1038,1352,1041,1402],[1041,1402,1052,1405],[1052,1420,1058,1458],[1040,1460,1048,1524],[1048,1518,1070,1524],[1078,1470,1085,1518],[1115,1510,1140,1524],[1330,1470,1338,1505],[1320,1505,1360,1524],[1402,1475,1430,1510],[1417,1440,1422,1475],[1430,1507,1475,1510],[1455,1484,1475,1510],[1480,1342,1494,1370],[1313,1275,1320,1305],[1320,1300,1335,1305],[1438,1386,1442,1390],[820,1470,824,1474],[857,1304,860,1308],[946,1220,950,1224],[576,1420,580,1424],[1272,1484,1276,1490],[1245,1505,1260,1524]];
const gChair = [[415,1155,440,1215],[340,1215,440,1330],[397,1330,425,1350],[403,1470,447,1495],[412,1450,448,1524],[515,930,547,934],[528,920,540,930],[540,934,545,1000],[532,995,565,1028],[522,995,532,998],[532,1028,537,1060],[514,1050,532,1060],[408,1088,420,1100],[415,1100,420,1120],[572,994,582,998],[760,920,783,928],[704,1048,712,1052],[857,1060,860,1085],[860,1085,866,1115],[945,1095,973,1115],[923,1115,940,1120],[905,1234,915,1252],[915,1272,930,1282],[555,1272,602,1300],[550,1290,585,1310],[579,1220,583,1272],[505,1218,520,1225],[595,1342,602,1352],[628,1470,635,1484],[827,950,830,962],[897,1322,900,1332],[550,1165,552,1180],[552,1490,555,1518]];
const gSofa = [[377,1215,397,1222]];
const gClear = [[325,1215,352,1238],[290,1305,320,1315],[308,1285,330,1305],[418,1052,421,1088],[500,1062,520,1070],[470,1085,498,1092],[470,1092,474,1115],[625,1087,638,1102],[635,1102,638,1115],[592,1130,606,1135],[603,1135,606,1150],[430,1018,433,1025],[1255,1068,1283,1080],[1265,1080,1280,1096],[75,1495,182,1524],[105,1483,182,1495],[130,1470,182,1483],[142,1437,182,1470]];

const hCeiling = [[137,55,157,80],[185,50,190,70],[237,50,292,54],[380,50,384,110],[487,55,494,65],[157,80,160,135],[610,50,615,85],[157,135,285,160],[210,160,232,195],[285,110,360,160],[180,125,285,135],[360,105,520,140],[520,85,640,140],[580,140,640,178],[120,105,125,130],[735,110,830,140],[755,65,835,110],[795,50,825,65],[880,105,892,135],[928,70,1050,125],[940,55,990,70],[1000,125,1050,150],[1050,130,1065,165],[1065,125,1095,150],[1080,120,1105,130],[1158,80,1205,125],[1205,100,1285,120],[1285,90,1430,135],[1365,50,1395,90],[1395,65,1475,90],[1405,90,1450,125],[660,120,680,140],[685,140,697,158],[1310,135,1365,150]];
const hBand = [[52,175,1499,245],[52,160,210,175],[232,160,285,175],[285,155,400,175],[400,145,580,175],[625,140,735,175],[640,70,665,135],[665,125,680,130],[680,105,710,110],[690,80,705,105],[705,110,737,140],[835,65,880,135],[892,105,922,135],[815,135,1050,175],[1050,165,1100,175],[1100,100,1158,175],[1080,65,1098,100],[1158,120,1285,175],[1285,140,1310,175],[1310,150,1405,175],[1430,155,1465,175],[1493,155,1499,300],[1470,175,1499,305],
[30,262,45,270],[56,245,110,262],[140,262,152,305],[125,305,152,316],[192,245,232,270],[305,245,335,315],[360,245,376,270],[455,245,470,260],[497,245,500,285],[580,245,612,285],[612,285,623,305],[718,245,736,305],[762,245,792,300],[830,245,898,305],[910,245,940,305],[988,245,1005,300],[1035,245,1065,300],[1068,245,1098,295],[1235,245,1260,300],[1268,245,1298,285],[1315,245,1327,295],[1365,245,1378,285],[1430,245,1470,270],[612,245,720,262],[735,245,1000,265],[1100,245,1130,250],[1200,245,1240,250],[1298,245,1340,262],[1378,245,1400,262]];
const hCeilingOver = [[1263,188,1268,192],[838,212,842,228],[873,217,885,242],[885,228,895,232],[447,217,498,228],[447,228,468,233]];
const hBeam = [[1430,125,1475,150],[1450,100,1490,125],[1475,55,1499,155],[1405,142,1428,150],[1430,150,1440,172],[1448,228,1462,240],[1452,300,1470,315],[1452,315,1499,378],[1470,295,1499,315],[1298,408,1302,458],[1323,395,1337,408],[1330,408,1345,428],[1433,413,1437,430]];
const hBoard = [[810,320,828,430],[828,320,880,350],[880,315,905,345],[920,315,945,340],[980,318,1010,345],[1058,305,1100,355],[1115,325,1142,350],[1150,340,1280,360],[1280,350,1418,360],[828,345,1418,500],[830,430,860,500],[845,500,1418,550],[910,540,1418,585],[888,585,1418,760],[905,760,1418,790],[925,790,1418,850],[945,850,1340,930],[1340,850,1418,935],[960,930,1340,1005],[1010,1005,1028,1038],[1065,1005,1255,1020],[1095,1020,1145,1060],[1285,1005,1320,1010],[1340,930,1365,945]];
const hHoles = [[955,595,992,645],[930,465,958,485],[855,415,866,480],[905,345,920,360],[950,340,975,345],[1040,340,1060,350],[1105,350,1170,375],[1010,758,1025,772],[1272,775,1315,800],[1300,770,1310,895],[1000,840,1018,880],[1292,605,1305,610],[1295,610,1298,662],[1152,585,1156,595],[948,648,951,672],[1100,405,1108,415],[1022,405,1035,422],[1192,645,1196,650],[1030,780,1033,800],[1200,358,1220,368]];
const hDoor = [[1418,360,1499,1345],[1410,745,1418,830],[1408,1345,1499,1412],[1440,1412,1499,1470],[1346,800,1358,818],[1340,908,1346,935],[1352,1268,1356,1286]];
const hBookcase = [[1403,415,1415,458],[1378,540,1382,550],[1397,640,1420,645],[1412,645,1420,664],[1378,718,1390,727],[1375,753,1378,781],[1392,781,1405,786],[1408,802,1415,821],[1375,846,1390,860],[1382,860,1390,875],[1370,915,1378,935],[1378,930,1395,935],[1395,935,1415,945],[1412,320,1422,340],[1412,340,1450,358],[1367,1037,1418,1090],[1322,1032,1330,1037],[1320,1105,1338,1120],[1328,1120,1334,1170],[1404,1215,1422,1248],[1408,1328,1418,1348],[1360,1420,1390,1524],[1378,1470,1415,1524],[1352,1365,1360,1370]];
const hWindow = [[63,133,165,162],[92,123,122,133],[165,150,180,178],[108,325,163,353],[125,315,160,325],[152,353,167,374],[72,388,82,395],[105,445,122,462],[105,462,108,483],[150,483,163,515],[150,515,153,565],[81,541,96,570],[208,570,218,576],[122,645,137,650],[81,663,89,678],[108,693,111,702],[193,703,200,718],[185,728,189,748],[171,781,180,802],[97,815,110,822],[110,822,140,840],[195,875,204,894],[163,910,170,930],[159,942,163,955],[68,968,74,977],[82,217,86,232],[203,227,211,246],[268,316,271,327],[275,323,278,334],[281,1185,291,1220]];
const hColumn = [[378,660,387,698],[416,483,420,488],[416,728,420,738],[376,758,380,768],[402,815,410,826]];
const hSpots = [[1168,1333,1190,1358],[1132,1358,1205,1420],[1205,1362,1310,1420],[1282,1322,1322,1378],[1105,1410,1305,1440],[1125,1440,1305,1470],[1130,1470,1238,1524],[395,1165,416,1180],[148,1043,159,1060],[126,1110,140,1145],[428,1105,432,1128],[826,590,830,610],[825,718,833,728],[985,860,989,870],[976,870,1015,888],[1015,880,1028,895],[940,845,944,855],[1083,915,1091,935],[978,1194,982,1214],[1025,1194,1029,1238],[1270,1278,1278,1286],[1053,1130,1058,1140]];
const hTable = [[455,925,495,948],[373,950,394,962],[574,930,595,950],[622,930,626,943],[410,1008,424,1023],[247,1147,262,1170],[1032,1090,1052,1140],[1050,1072,1055,1090],[1083,935,1090,952],[1090,950,1105,983],[958,943,963,948],[1013,1037,1017,1052]];
const hFloor = [[265,1278,320,1300],[245,1300,355,1320],[225,1312,460,1355],[207,1330,467,1358],[185,1358,450,1420],[185,1370,410,1490],[440,1463,472,1485],[240,1490,440,1505],[285,1505,310,1518],[350,1500,430,1518],[335,1205,345,1275],[345,1205,360,1218],[495,1300,498,1312],[545,1280,575,1287],[567,1268,575,1280],[547,1287,553,1312],[550,1385,575,1397],[530,1400,538,1415],[830,1333,840,1360],[868,1362,880,1376],[845,1410,862,1430],[868,1440,877,1450],[975,1315,980,1328],[1043,1330,1068,1340],[1058,1322,1062,1330],[987,1362,999,1376],[858,1233,862,1268],[845,1248,858,1252],[1064,1250,1075,1272],[1286,1200,1294,1215],[1300,1214,1305,1218],[968,1430,1030,1442],[965,1445,980,1452],[975,1442,990,1524],[1025,1442,1030,1475],[1030,1475,1043,1524],[830,1510,865,1524],[852,1503,865,1510],[915,1518,920,1524],[1422,1268,1430,1272],[1422,1385,1427,1395],[1430,1395,1437,1410],[1415,1470,1499,1488],[1463,1450,1470,1470],[440,1505,447,1524],[450,1485,470,1500],[470,1505,500,1518],[497,1510,530,1524],[1130,1490,1150,1524],[1150,1508,1190,1524],[1238,1470,1290,1524],[1290,1490,1316,1524],[1345,1490,1378,1524],[1360,1465,1370,1490],[1316,1518,1345,1524],[1305,1368,1322,1378]];
const hChair = [[345,1185,438,1230],[340,1230,455,1275],[355,1275,447,1305],[447,1280,464,1320],[410,1420,470,1470],[445,1485,462,1518],[585,1200,623,1258],[545,1160,561,1180],[515,1185,535,1205],[475,1160,485,1185],[545,1003,552,1020],[552,1020,560,1052],[530,1110,547,1115],[575,1105,579,1150],[650,1292,656,1310],[605,1385,626,1395],[630,1415,640,1450],[620,1450,630,1465],[607,1465,620,1472],[500,1463,510,1473],[882,870,890,900],[567,925,574,953],[410,1023,420,1030],[485,1185,488,1212]];
const hSofa = [[375,1205,402,1232],[376,1232,384,1252],[366,1185,370,1218]];
const hTable2 = [[203,1436,232,1490]];
const hClear = [[335,1185,362,1205],[305,1260,330,1277],[320,1235,333,1260],[425,1000,450,1040],[635,1056,640,1075],[640,1072,645,1075],[1287,1020,1290,1037],[1102,1125,1108,1145],[1288,1112,1291,1125],[515,1170,520,1195],[1415,1488,1499,1524],[75,1485,185,1524],[110,1470,185,1485],[135,1430,185,1470],[167,1400,185,1430],[185,1495,225,1524],[225,1500,285,1524],[310,1505,350,1524],[415,1505,440,1524],[45,1518,75,1524]];

// where each panel sits on the page and the image range it shows
const panels = [
  { box: [46, 37, 752, 565], xRange: [84, 1455], yRange: [73, 1210], base: 'raw', caption: 398, layers: [['clear', aClear]] },
  { box: [877, 37, 753, 565], xRange: [71, 1511], yRange: [44, 1520], base: 'correct', caption: 1230, layers: [['error', bError], ['clear', bClear]] },
  { box: [1709, 37, 753, 565], xRange: [57, 1533], yRange: [44, 1520], base: 'correct', caption: 2060, layers: [['error', cError], ['correct', cHoles], ['clear', cClear]] },
  { box: [2541, 37, 753, 565], xRange: [41, 1517], yRange: [44, 1520], base: 'correct', caption: 2892, layers: [['error', dError], ['clear', dClear]] },
  { box: [46, 839, 752, 564], xRange: [31, 1505], yRange: [50, 1524], base: 'wall', caption: 398, layers: [['ceiling', eCeiling], ['clutter', eBand], ['beam', eBeam], ['board', eBoard], ['wall', eHoles], ['door', eDoor], ['bookcase', eBookcase], ['window', eWindow], ['column', eColumn], ['clutter', eSpots], ['table', eTable], ['floor', eFloor], ['chair', eChair], ['table', eTable2], ['clear', eClear]] },
  { box: [839, 839, 750, 564], xRange: [37, 1507], yRange: [50, 1524], base: 'wall', caption: 1192, layers: [['ceiling', fCeiling], ['clutter', fBand], ['beam', fBeam], ['board', fBoard], ['wall', fHoles], ['door', fDoor], ['bookcase', fBookcase], ['window', fWindow], ['column', fColumn], ['clutter', fSpots], ['table', fTable], ['floor', fFloor], ['chair', fChair], ['clear', fClear]] },
  { box: [1632, 839, 750, 564], xRange: [24, 1494], yRange: [50, 1524], base: 'wall', caption: 1984, layers: [['ceiling', gCeiling], ['clutter', gBand], ['ceiling', gCeilingOver], ['beam', gBeam], ['board', gBoard], ['wall', gHoles], ['door', gDoor], ['bookcase', gBookcase], ['window', gWindow], ['column', gColumn], ['clutter', gSpots], ['table', gTable], ['floor', gFloor], ['chair', gChair], ['sofa', gSofa], ['clear', gClear]] },
  { box: [2425, 839, 750, 564], xRange: [29, 1499], yRange: [50, 1524], base: 'wall', caption: 2778, layers: [['ceiling', hCeiling], ['clutter', hBand], ['ceiling', hCeilingOver], ['beam', hBeam], ['board', hBoard], ['wall', hHoles], ['door', hDoor], ['bookcase', hBookcase], ['window', hWindow], ['column', hColumn], ['clutter', hSpots], ['table', hTable], ['floor', hFloor], ['chair', hChair], ['sofa', hSofa], ['table', hTable2], ['clear', hClear]] }
];

function addCanvas(left, top, width, height) {
  const canvas = document.createElement('canvas');
  canvas.width = width;
  canvas.height = height;
  canvas.style.left = left + 'px';
  canvas.style.top = top + 'px';
  canvas.style.width = width + 'px';
  canvas.style.height = height + 'px';
  document.body.appendChild(canvas);
  return canvas;
}

// one floating bar per region
function regionDataset(rect, color, pxPerUnit) {
  return {
    data: [{ x: (rect[0] + rect[2]) / 2, y: [rect[1], rect[3]] }],
    backgroundColor: color,
    barThickness: (rect[2] - rect[0]) * pxPerUnit,
    grouped: false,
    borderWidth: 0
  };
}

panels.forEach((panel, i) => {
  const [left, top, width, height] = panel.box;
  const pxPerUnit = width / (panel.xRange[1] - panel.xRange[0]);
  const baseRect = [panel.xRange[0], panel.yRange[0], panel.xRange[1], panel.yRange[1]];
  const datasets = [regionDataset(baseRect, colors[panel.base], pxPerUnit)];
  panel.layers.forEach(([name, rects]) => {
    rects.forEach(rect => datasets.push(regionDataset(rect, colors[name], pxPerUnit)));
  });
  // Chart.js paints the first dataset last, so the base goes at the end
  datasets.reverse();

  new Chart(addCanvas(left, top, width, height), {
    type: 'bar',
    data: { datasets },
    options: {
      responsive: false,
      animation: false,
      devicePixelRatio: 1,
      events: [],
      layout: { padding: 0 },
      plugins: { legend: { display: false }, tooltip: { enabled: false } },
      scales: {
        x: { type: 'linear', display: false, offset: false, min: panel.xRange[0], max: panel.xRange[1] },
        y: { type: 'linear', display: false, reverse: true, min: panel.yRange[0], max: panel.yRange[1] }
      }
    }
  });

  const caption = document.createElement('div');
  caption.className = 'caption';
  caption.textContent = captions[i];
  caption.style.left = (panel.caption - 100) + 'px';
  caption.style.top = (top + height + 72) + 'px';
  document.body.appendChild(caption);
});

// legend swatches are bars too, the names are drawn under them at the same x
const legendLabels = {
  id: 'legendLabels',
  afterDatasetsDraw(chart) {
    const { ctx, scales } = chart;
    ctx.save();
    ctx.fillStyle = '#000';
    ctx.font = '90px "Liberation Serif", serif';
    ctx.textAlign = 'center';
    ctx.textBaseline = 'alphabetic';
    legendNames.forEach((name, i) => {
      ctx.fillText(name, scales.x.getPixelForValue(i), scales.y.getPixelForValue(legendTops[i] + 149));
    });
    ctx.restore();
  }
};

new Chart(addCanvas(0, 1590, 3320, 208), {
  type: 'bar',
  data: {
    datasets: [{
      data: legendNames.map((name, i) => ({ x: i, y: [legendTops[i], legendTops[i] + 50] })),
      backgroundColor: legendColors,
      barThickness: 131,
      borderWidth: 0
    }]
  },
  plugins: [legendLabels],
  options: {
    responsive: false,
    animation: false,
    devicePixelRatio: 1,
    events: [],
    plugins: { legend: { display: false }, tooltip: { enabled: false } },
    scales: {
      x: { type: 'linear', display: false, offset: false, min: -0.285, max: 10.175 },
      y: { type: 'linear', display: false, reverse: true, min: 0, max: 208 }
    }
  }
});
</script>
</body>
</html>
